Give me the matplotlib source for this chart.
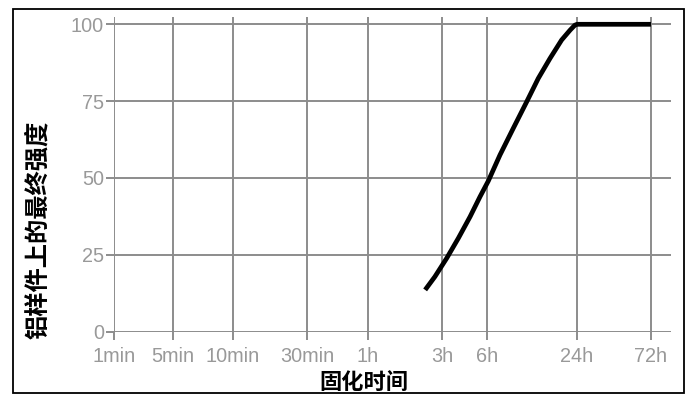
import numpy as np
import matplotlib
matplotlib.use("Agg")
import matplotlib.pyplot as plt
from matplotlib.patches import Rectangle

plt.rcParams['font.family'] = ['Liberation Sans', 'Noto Sans CJK SC', 'DejaVu Sans']

# Data (time in hours, strength in %)
tick_hours = [1/60, 5/60, 10/60, 0.5, 1, 3, 6, 24, 72]
tick_labels = ["1min", "5min", "10min", "30min", "1h", "3h", "6h", "24h", "72h"]
y_ticks = [0, 25, 50, 75, 100]
cure_hours = [2.33, 2.69, 3.21, 3.84, 4.60, 5.36, 6.09, 7.30, 8.97, 11.03,
              13.19, 15.81, 18.93, 21.56, 23.2, 24, 72]
strength = [13.6, 17.9, 23.9, 30.4, 37.4, 43.9, 49.0, 57.5, 66.2, 74.8,
            82.4, 88.9, 94.9, 98.1, 99.7, 100, 100]

# Irregular axis spacing of the original drawing (layout positions of the ticks)
tick_pos = np.array([113.7, 173.3, 232.7, 307.3, 367.7, 442.3, 487.3, 577.0, 651.0])
log_t = np.log10(tick_hours)
s_hi = (tick_pos[-1] - tick_pos[-2]) / (log_t[-1] - log_t[-2])
s_lo = (tick_pos[1] - tick_pos[0]) / (log_t[1] - log_t[0])

def fwd(x):
    lx = np.log10(np.clip(np.asarray(x, float), 1e-9, None))
    out = np.interp(lx, log_t, tick_pos)
    out = np.where(lx > log_t[-1], tick_pos[-1] + (lx - log_t[-1]) * s_hi, out)
    out = np.where(lx < log_t[0], tick_pos[0] + (lx - log_t[0]) * s_lo, out)
    return out

def inv(p):
    p = np.asarray(p, float)
    lx = np.interp(p, tick_pos, log_t)
    lx = np.where(p > tick_pos[-1], log_t[-1] + (p - tick_pos[-1]) / s_hi, lx)
    lx = np.where(p < tick_pos[0], log_t[0] + (p - tick_pos[0]) / s_lo, lx)
    return 10 ** lx

W, H = 691, 394
fig = plt.figure(figsize=(W/100, H/100), dpi=100)
ax = fig.add_axes([113.7/W, 1 - 331.7/H, (671 - 113.7)/W, (331.7 - 16.7)/H])
ax.set_xscale('function', functions=(fwd, inv))
ax.set_xlim(tick_hours[0], float(inv(671.0)))
ax.set_ylim(0, 102.47)

grid_c = '#8c8c8c'
ax.set_xticks(tick_hours)
ax.set_xticklabels(tick_labels)
ax.set_yticks(y_ticks)
ax.xaxis.set_minor_locator(matplotlib.ticker.NullLocator())
ax.grid(True, color=grid_c, linewidth=1.4)
ax.set_axisbelow(True)
for s in ax.spines.values():
    s.set_visible(False)
ax.tick_params(axis='both', colors=grid_c, labelcolor='#999999', labelsize=14.3,
               length=6, width=1.4)
ax.tick_params(axis='x', pad=5)
ax.tick_params(axis='y', pad=1)

ax.plot(cure_hours, strength, color='black', linewidth=3.4, solid_capstyle='butt',
        solid_joinstyle='round', clip_on=False)

fig.text(38/W, 1 - 230/H, "铝样件上的最终强度", rotation=90, ha='center', va='center',
         fontsize=17.5, fontweight='bold', family=['Noto Sans CJK SC', 'DejaVu Sans'])
fig.text(364/W, 1 - 382/H, "固化时间", ha='center', va='center',
         fontsize=16, fontweight='bold', family=['Noto Sans CJK SC', 'DejaVu Sans'])

fig.patches.append(Rectangle((12.7/W, 1 - 393/H), (684.3 - 12.7)/W, (393 - 9.3)/H,
                             transform=fig.transFigure, fill=False,
                             edgecolor='black', linewidth=1.3))

fig.savefig('out.png', dpi=100)
